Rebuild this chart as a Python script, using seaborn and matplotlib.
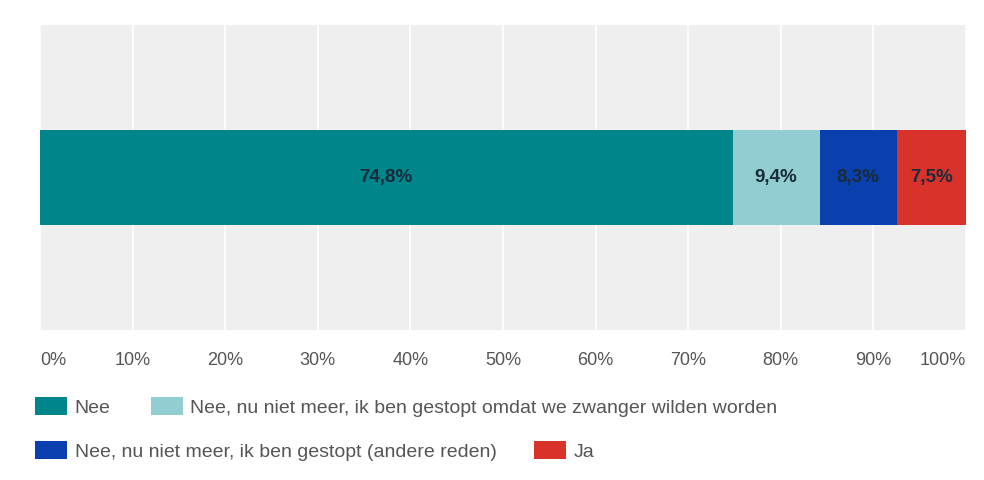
import seaborn as sns
import matplotlib.pyplot as plt
from matplotlib.patches import Patch

# data
categorieen = ['Nee',
               'Nee, nu niet meer, ik ben gestopt omdat we zwanger wilden worden',
               'Nee, nu niet meer, ik ben gestopt (andere reden)',
               'Ja']
percentages = [74.8, 9.4, 8.3, 7.5]
labels = ['74,8%', '9,4%', '8,3%', '7,5%']
kleuren = ['#00868a', '#91cdd1', '#0a3fae', '#d8322b']
ticks = [0, 10, 20, 30, 40, 50, 60, 70, 80, 90, 100]

sns.set_style('white')
plt.rcParams['font.family'] = ['Liberation Sans', 'DejaVu Sans']

fig = plt.figure(figsize=(9.84, 4.8), dpi=100)
ax = fig.add_axes([40/984, 1 - 330/480, 926/984, 305/480])
ax.set_facecolor('#efefef')

# gestapelde balk: cumulatieve totalen van groot naar klein tekenen
cum = []
totaal = 0
for p in percentages:
    totaal += p
    cum.append(totaal)

for i in reversed(range(len(percentages))):
    sns.barplot(x=[cum[i]], y=[''], color=kleuren[i], orient='h',
                width=0.31, saturation=1, linewidth=0, edgecolor='none',
                ax=ax, zorder=3)

start = 0
for p, lab in zip(percentages, labels):
    ax.text(start + p / 2, 0, lab, ha='center', va='center',
            fontsize=13.5, fontweight='bold', color='#1a2b3a', zorder=4)
    start += p

ax.set_xlim(0, 100)
ax.set_ylim(0.5, -0.5)
ax.set_xticks(ticks)
ax.set_xticklabels([f'{t}%' for t in ticks], fontsize=13, color='#555555')
ax.get_xticklabels()[0].set_ha('left')
ax.get_xticklabels()[-1].set_ha('right')
ax.tick_params(axis='x', length=0, pad=16)
ax.set_yticks([])
ax.set_xlabel('')
ax.set_ylabel('')
ax.grid(axis='x', color='white', linewidth=1.2, zorder=0)
ax.set_axisbelow(True)
for s in ax.spines.values():
    s.set_visible(False)

handles = [Patch(facecolor=k, edgecolor='none') for k in kleuren]
leg_opts = dict(loc='center left', ncol=2, frameon=False, fontsize=14,
                handlelength=1.65, handleheight=1.0, handletextpad=0.4,
                borderpad=0, borderaxespad=0, labelcolor='#555555')
leg1 = fig.legend(handles[:2], categorieen[:2],
                  bbox_to_anchor=(35/984, 1 - 407/480),
                  columnspacing=2.05, **leg_opts)
leg2 = fig.legend(handles[2:], categorieen[2:],
                  bbox_to_anchor=(35/984, 1 - 451/480),
                  columnspacing=1.9, **leg_opts)

fig.savefig('out.png', dpi=100)
